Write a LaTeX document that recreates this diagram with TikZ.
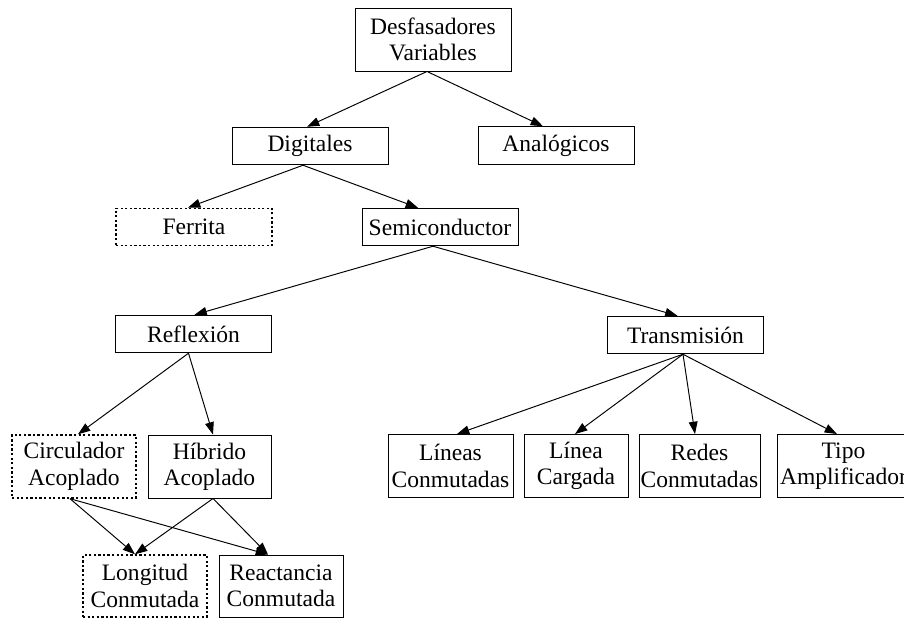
\documentclass[tikz,border=0pt]{standalone}
\usepackage{fontspec}
\setmainfont{Liberation Serif}
\usetikzlibrary{arrows.meta,calc}

\begin{document}
\begin{tikzpicture}[x=0.02cm, y=-0.02cm,
    box/.style={draw, line width=0.55pt, align=center, inner sep=0pt,
        font=\fontsize{13.4}{15}\selectfont},
    onebox/.style={box, minimum width=3.12cm, minimum height=0.75cm},
    twobox/.style={box, minimum height=1.26cm},
    dotbox/.style={dash pattern=on 1.3pt off 1.3pt, line width=0.8pt},
    arr/.style={-{Triangle[length=7pt,width=5pt]}, line width=0.55pt}]
        \useasboundingbox (0,0) rectangle (904,619);

        \node[twobox, minimum width=3.12cm] (des) at (433,39.5) {Desfasadores\\Variables};
        \node[onebox] (dig) at (310,146) {Digitales};
        \node[onebox] (ana) at (556,145.5) {Analógicos};
        \node[onebox, dotbox] (fer) at (194,227) {Ferrita};
        \node[onebox] (semi) at (440,227) {Semiconductor};
        \node[onebox] (refl) at (193.5,334) {Reflexión};
        \node[onebox] (trans) at (685.5,335) {Transmisión};

        \node[twobox, dotbox, minimum width=2.48cm] (circ) at (74,466.5) {Circulador\\Acoplado};
        \node[twobox, minimum width=2.46cm] (hib) at (209.5,466.5) {Híbrido\\Acoplado};
        \node[twobox, minimum width=2.5cm] (lin) at (450.5,466) {Líneas\\Conmutadas};
        \node[twobox, minimum width=2.08cm] (lca) at (576,466) {Línea\\Cargada};
        \node[twobox, minimum width=2.42cm] (red) at (699.5,466) {Redes\\Conmutadas};
        \node[twobox, minimum width=2.66cm] (tipo) at (843.5,466) {Tipo\\Amplificador};

        \node[twobox, dotbox, minimum width=2.48cm, minimum height=1.24cm] (long) at (145,586) {Longitud\\Conmutada};
        \node[twobox, minimum width=2.48cm, minimum height=1.24cm] (reac) at (281,586) {Reactancia\\Conmutada};

        \draw[arr] ($(des.south)+(-6,0)$) -- ($(dig.north)+(-3,0)$);
        \draw[arr] ($(des.south)+(-6,0)$) -- ($(ana.north)+(-13,0)$);
        \draw[arr] ($(dig.south)+(-7,0)$) -- ($(fer.north)+(-6,0)$);
        \draw[arr] ($(dig.south)+(-7,0)$) -- ($(semi.north)+(-22,0)$);
        \draw[arr] ($(semi.south)+(-7,0)$) -- ($(refl.north)+(1,0)$);
        \draw[arr] ($(semi.south)+(-7,0)$) -- ($(trans.north)+(-8,0)$);
        \draw[arr] ($(refl.south)+(-5,0)$) -- ($(circ.north)+(4,0)$);
        \draw[arr] ($(refl.south)+(-5,0)$) -- ($(hib.north)+(3.5,0)$);
        \draw[arr] ($(trans.south)+(-2.5,0)$) -- ($(lin.north)+(6.5,0)$);
        \draw[arr] ($(trans.south)+(-2.5,0)$) -- ($(lca.north)+(-1,0)$);
        \draw[arr] ($(trans.south)+(-2.5,0)$) -- ($(red.north)+(-4.5,0)$);
        \draw[arr] ($(trans.south)+(-2.5,0)$) -- ($(tipo.north)+(-6.5,0)$);
        \draw[arr] ($(circ.south)+(-4,0)$) -- ($(long.north)+(-10,0)$);
        \draw[arr] ($(circ.south)+(-4,0)$) -- ($(reac.north)+(-13,0)$);
        \draw[arr] ($(hib.south)+(3.5,0)$) -- ($(long.north)+(-10,0)$);
        \draw[arr] ($(hib.south)+(3.5,0)$) -- ($(reac.north)+(-13,0)$);
    \end{tikzpicture}
\end{document}
